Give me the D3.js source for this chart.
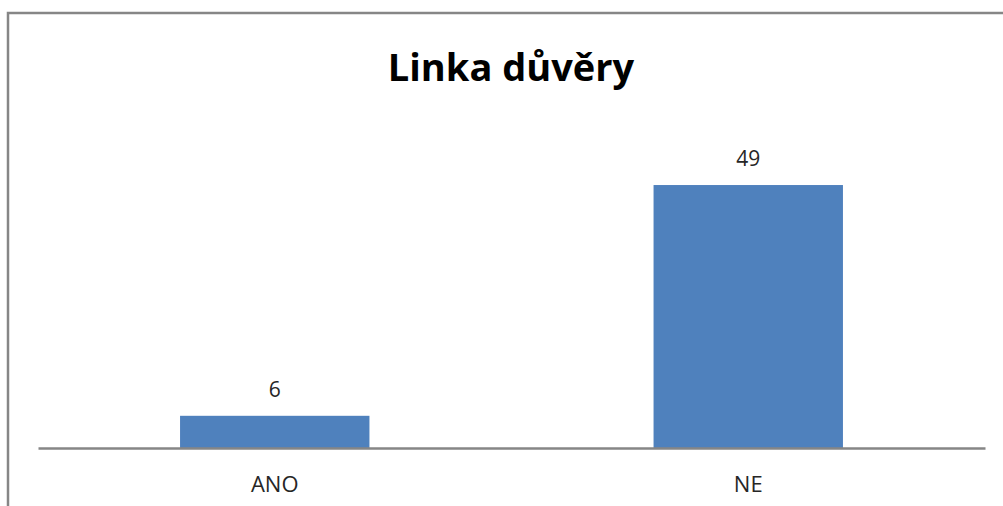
<!DOCTYPE html>
<html>
<head>
    <title>Linka důvěry</title>
    <script src="https://cdn.jsdelivr.net/npm/d3@7"></script>
    <style>
        body { margin: 0; background: white; }
        text { font-family: "Open Sans", "Noto Sans", sans-serif; }
    </style>
</head>
<body>
    <div id="chart"></div>
    <script>
        const categories = ["ANO", "NE"];
        const values = [6, 49];
        const yMax = 60;

        const W = 1003, H = 506;
        const plot = { left: 38, right: 985, top: 126, bottom: 448 };

        const svg = d3.select("#chart")
            .append("svg")
            .attr("width", W)
            .attr("height", H);

        // frame (cropped on right and bottom)
        svg.append("path")
            .attr("d", `M8,${H} L8,13 L${W},13`)
            .attr("fill", "none")
            .attr("stroke", "#868686")
            .attr("stroke-width", 2.5);

        const x = d3.scaleBand()
            .domain(categories)
            .range([plot.left, plot.right])
            .paddingInner(0.6)
            .paddingOuter(0.3);

        const y = d3.scaleLinear()
            .domain([0, yMax])
            .range([plot.bottom, plot.top]);

        // title
        svg.append("text")
            .attr("x", 511)
            .attr("y", 81)
            .attr("text-anchor", "middle")
            .attr("font-size", 38)
            .attr("font-weight", "bold")
            .attr("fill", "#000")
            .text("Linka důvěry");

        // bars
        svg.append("g")
            .selectAll("rect")
            .data(values)
            .enter().append("rect")
            .attr("x", (d, i) => x(categories[i]))
            .attr("y", d => y(d))
            .attr("width", x.bandwidth())
            .attr("height", d => y(0) - y(d))
            .attr("fill", "#4f81bd");

        // value labels
        svg.append("g")
            .selectAll("text")
            .data(values)
            .enter().append("text")
            .attr("x", (d, i) => x(categories[i]) + x.bandwidth() / 2)
            .attr("y", d => y(d) - 19)
            .attr("text-anchor", "middle")
            .attr("font-size", 21)
            .attr("fill", "#262626")
            .text(d => d);

        // x axis
        const xAxis = svg.append("g")
            .attr("transform", `translate(0, ${plot.bottom})`)
            .call(d3.axisBottom(x).tickSize(0).tickPadding(28));
        xAxis.select(".domain")
            .attr("stroke", "#868686")
            .attr("stroke-width", 2.5);
        xAxis.selectAll("text")
            .attr("font-size", 22)
            .attr("fill", "#262626")
            .style("font-family", "'Open Sans', 'Noto Sans', sans-serif");
    </script>
</body>
</html>
